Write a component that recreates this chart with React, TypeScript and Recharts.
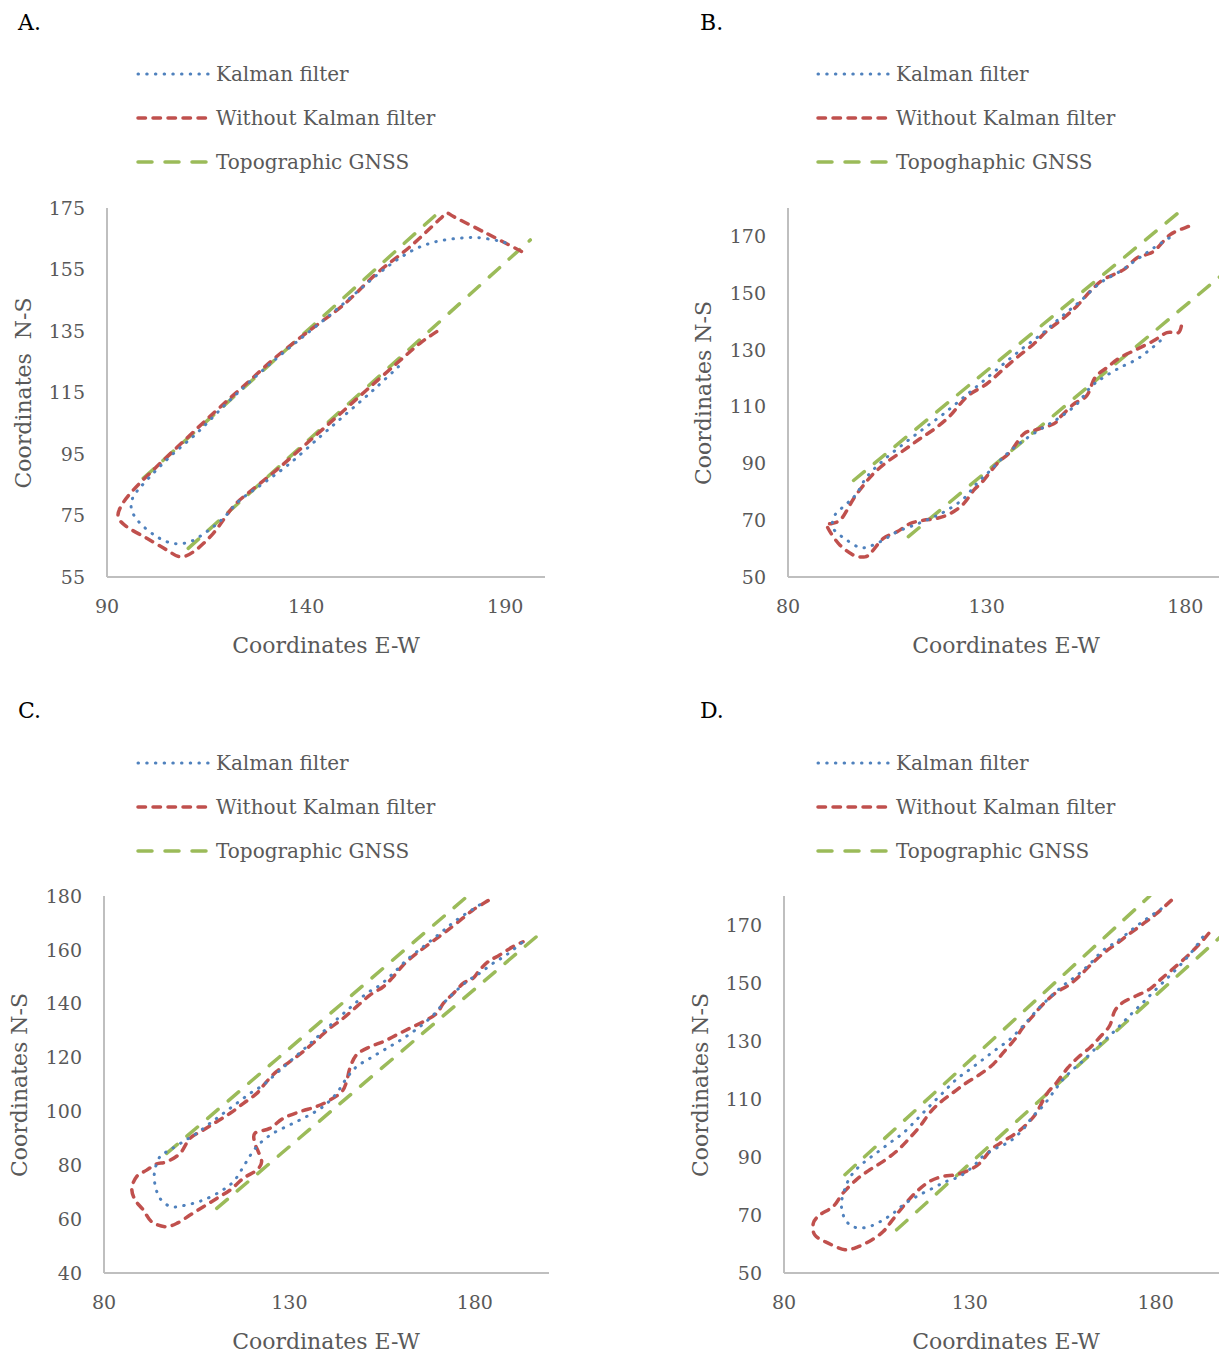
import React from "react";
import { LineChart, Line, XAxis, YAxis } from "recharts";

type Pt = [number, number];

// ---- Panel A ----
const kalmanA: Pt[] = [
  [163.2, 123.4], [156.9, 115.8], [150.2, 108.2], [143.5, 100.6], [136.0, 92.0], [129.3, 85.5],
  [123.4, 80.0], [119.2, 74.1], [115.0, 69.7], [110.9, 66.5], [106.7, 65.9], [102.5, 68.1],
  [98.3, 72.5], [96.2, 76.8], [96.6, 81.1], [100.0, 86.5], [105.8, 94.1], [112.5, 101.7],
  [119.2, 110.4], [125.9, 118.5], [132.6, 126.1], [139.3, 133.2], [146.0, 140.2], [151.9, 146.7],
  [157.8, 153.2], [162.8, 158.1], [167.8, 161.9], [172.8, 164.1], [177.9, 165.1], [182.9, 165.4],
  [188.0, 164.4], [191.0, 163.3],
];
const rawA: Pt[] = [
  [172.8, 134.8], [168.6, 131.0], [162.8, 124.5], [155.2, 115.8], [147.7, 107.1], [140.2, 98.5],
  [132.6, 89.8], [125.9, 82.8], [121.7, 77.9], [116.7, 69.2], [111.7, 63.2], [108.3, 61.6],
  [105.0, 63.8], [100.0, 67.6], [94.9, 71.4], [92.8, 74.6], [93.7, 78.4], [96.6, 83.3],
  [102.5, 90.9], [110.0, 100.1], [117.6, 109.3], [125.1, 118.0], [132.6, 126.7], [141.0, 135.3],
  [149.4, 143.5], [157.8, 153.8], [166.1, 162.4], [173.6, 171.4], [175.3, 173.3], [177.2, 172.1],
  [184.8, 167.1], [192.3, 162.1], [194.2, 160.8],
];
const gnssUpperA: Pt[] = [[99.1, 87.1], [174.5, 175.0]];
const gnssLowerA: Pt[] = [[110.4, 64.3], [196.3, 164.6]];

// ---- Panel B ----
const kalmanB: Pt[] = [
  [173.7, 133.2], [171.2, 130.2], [167.8, 126.7], [163.6, 123.8], [159.4, 120.3], [156.1, 116.8],
  [152.7, 110.9], [148.5, 106.3], [144.3, 102.7], [139.3, 98.1], [135.1, 93.4], [130.9, 87.5],
  [127.5, 82.9], [124.2, 77.6], [120.0, 73.5], [115.8, 70.6], [111.6, 68.2], [107.4, 65.9],
  [104.0, 63.0], [100.7, 60.9], [98.1, 60.4], [94.8, 63.0], [91.4, 67.1], [91.8, 71.8],
  [94.8, 75.8], [97.3, 79.4], [99.8, 85.2], [104.0, 91.1], [109.1, 96.9], [114.1, 102.2],
  [119.1, 107.4], [124.2, 113.3], [129.2, 119.1], [134.2, 125.0], [139.3, 130.8], [144.3, 136.1],
  [148.5, 141.3], [153.6, 147.2], [158.6, 153.6], [163.6, 157.7], [167.8, 161.8], [172.0, 165.9],
  [176.6, 170.0],
];
const rawB: Pt[] = [
  [180.8, 173.5], [176.2, 170.6], [172.0, 164.7], [167.8, 162.4], [164.5, 158.3], [159.4, 154.8],
  [156.1, 150.7], [152.7, 145.4], [149.4, 141.3], [145.2, 136.7], [141.8, 132.0], [137.6, 127.3],
  [134.2, 123.2], [130.0, 118.0], [125.8, 114.4], [123.3, 110.9], [120.8, 106.8], [117.4, 102.7],
  [113.2, 98.7], [109.1, 94.6], [104.9, 90.5], [101.5, 86.4], [99.0, 82.3], [96.5, 77.6],
  [93.5, 70.6], [91.0, 68.8], [89.7, 68.8], [90.6, 65.9], [93.1, 61.2], [96.5, 57.7],
  [99.4, 57.1], [101.1, 58.9], [104.0, 63.6], [107.4, 65.9], [110.7, 68.8], [114.1, 70.0],
  [117.4, 70.6], [120.8, 72.3], [124.2, 75.8], [126.7, 80.5], [129.2, 84.0], [132.6, 89.9],
  [135.9, 94.0], [139.3, 100.4], [141.8, 101.6], [146.8, 103.9], [148.5, 106.3], [151.9, 110.9],
  [155.2, 113.9], [157.3, 120.3], [160.3, 123.8], [163.6, 127.3], [167.8, 130.2], [172.0, 133.2],
  [175.4, 136.1], [178.3, 136.1], [179.2, 139.6],
];
const gnssUpperB: Pt[] = [[96.5, 84.0], [179.7, 180.0]];
const gnssLowerB: Pt[] = [[110.3, 64.2], [190.0, 157.3]];

// ---- Panel C ----
const kalmanC: Pt[] = [
  [181.3, 176.7], [175.1, 171.1], [170.6, 166.1], [166.1, 161.2], [161.6, 156.2], [158.0, 151.3],
  [154.4, 146.9], [150.8, 143.8], [147.2, 139.5], [143.6, 135.2], [139.1, 129.6], [134.6, 124.0],
  [130.1, 118.5], [126.5, 114.1], [122.9, 109.8], [119.4, 106.7], [115.8, 103.0], [112.2, 99.3],
  [108.6, 95.6], [105.0, 91.9], [101.4, 88.8], [97.8, 85.7], [95.1, 83.2], [93.7, 78.2],
  [93.7, 73.3], [95.1, 67.7], [98.2, 64.6], [102.3, 65.3], [106.8, 67.1], [111.3, 70.2],
  [114.9, 73.9], [117.6, 79.5], [119.8, 84.4], [122.0, 88.1], [125.6, 91.9], [130.1, 95.0],
  [134.6, 98.1], [139.1, 101.8], [142.7, 106.7], [145.4, 112.3], [148.1, 116.6], [151.7, 119.7],
  [156.2, 123.4], [160.7, 127.1], [165.2, 131.5], [168.8, 135.8], [171.5, 140.1], [174.2, 143.8],
  [177.8, 148.2], [181.3, 151.3], [184.9, 155.0], [188.5, 158.1], [193.0, 163.0],
];
const rawC: Pt[] = [
  [183.6, 178.3], [179.5, 174.8], [175.1, 169.9], [171.5, 166.1], [167.9, 162.4], [164.3, 158.7],
  [160.7, 154.4], [158.0, 150.0], [155.3, 146.3], [151.7, 143.2], [148.1, 138.9], [144.5, 134.6],
  [140.9, 130.9], [137.3, 126.5], [133.7, 122.2], [130.1, 118.5], [126.5, 114.8], [123.8, 111.0],
  [121.2, 106.7], [117.6, 103.0], [114.0, 99.3], [110.4, 96.2], [106.8, 93.1], [103.2, 90.0],
  [100.5, 84.4], [96.9, 81.3], [94.2, 80.5], [91.5, 78.2], [88.8, 75.8], [87.5, 71.4],
  [88.4, 67.1], [90.6, 63.4], [92.8, 59.1], [96.4, 57.2], [99.6, 58.4], [103.2, 61.5],
  [106.8, 64.6], [110.4, 67.7], [114.0, 70.8], [117.6, 75.2], [121.2, 78.2], [122.5, 81.3],
  [121.6, 85.1], [120.7, 88.1], [120.7, 91.9], [124.7, 93.7], [128.3, 97.4], [132.8, 99.9],
  [137.3, 101.8], [140.9, 104.2], [144.1, 107.3], [145.4, 111.0], [146.3, 116.0], [148.1, 121.0],
  [151.7, 124.0], [155.3, 125.9], [158.9, 128.4], [162.5, 130.9], [166.1, 133.3], [169.7, 136.4],
  [171.5, 140.1], [174.2, 143.8], [176.9, 147.6], [179.5, 149.4], [181.3, 152.5], [183.6, 155.6],
  [186.7, 158.1], [190.3, 161.2], [193.0, 163.0],
];
const gnssUpperC: Pt[] = [[96.9, 84.4], [177.8, 179.7]];
const gnssLowerC: Pt[] = [[110.4, 64.0], [196.6, 164.9]];

// ---- Panel D ----
const kalmanD: Pt[] = [
  [181.5, 175.6], [177.5, 172.1], [173.9, 168.7], [169.9, 164.6], [165.8, 161.2], [162.3, 156.6],
  [158.7, 152.5], [155.1, 149.1], [151.5, 145.0], [147.9, 140.4], [144.3, 135.2], [140.8, 130.6],
  [137.2, 127.2], [133.6, 123.7], [130.0, 120.2], [126.4, 116.8], [122.8, 112.2], [119.2, 107.6],
  [115.7, 102.9], [112.1, 98.3], [108.5, 94.9], [104.9, 91.4], [101.3, 87.9], [98.6, 84.5],
  [96.8, 80.5], [95.5, 74.7], [95.9, 70.1], [97.7, 66.6], [100.4, 65.5], [103.6, 66.3],
  [106.7, 68.3], [109.4, 70.6], [112.1, 73.5], [115.7, 76.4], [120.1, 79.3], [123.7, 81.6],
  [127.3, 83.3], [130.9, 86.8], [133.6, 90.3], [137.2, 93.1], [140.8, 95.4], [144.3, 99.5],
  [147.0, 104.1], [149.7, 107.6], [152.4, 112.2], [155.1, 116.8], [157.8, 120.2], [160.9, 123.7],
  [164.5, 128.3], [168.1, 132.4], [171.2, 136.4], [173.9, 139.9], [176.6, 143.3], [179.3, 146.8],
  [182.9, 151.4], [186.5, 156.0], [190.0, 161.2], [193.6, 167.5],
];
const rawD: Pt[] = [
  [184.2, 178.5], [180.2, 173.9], [176.6, 170.4], [173.0, 167.0], [169.4, 163.5], [165.8, 160.1],
  [162.3, 156.0], [159.6, 152.5], [156.4, 149.1], [153.3, 146.8], [149.7, 142.7], [147.0, 138.7],
  [144.3, 134.7], [142.1, 130.6], [139.0, 126.0], [136.3, 122.0], [132.7, 118.5], [129.1, 115.6],
  [125.5, 112.2], [121.9, 108.7], [119.2, 105.2], [116.6, 100.6], [113.4, 96.0], [110.3, 92.0],
  [106.7, 88.5], [103.1, 85.6], [99.5, 82.2], [95.9, 77.6], [93.3, 73.0], [89.7, 70.1],
  [87.9, 67.2], [88.3, 63.1], [91.9, 60.3], [96.4, 58.0], [100.0, 59.1], [103.6, 61.4],
  [106.7, 64.3], [108.9, 67.8], [112.1, 73.0], [115.7, 78.1], [119.2, 81.6], [122.8, 83.3],
  [126.4, 83.9], [130.0, 85.6], [132.7, 87.9], [135.8, 92.6], [139.0, 95.4], [142.5, 98.3],
  [145.2, 101.2], [147.9, 105.2], [150.6, 111.6], [153.3, 115.6], [156.4, 120.8], [159.1, 124.3],
  [162.3, 127.7], [164.9, 131.2], [167.6, 135.2], [169.0, 140.4], [171.2, 143.3], [174.8, 145.6],
  [178.4, 147.9], [181.5, 151.4], [185.1, 155.4], [188.7, 159.5], [191.8, 163.5], [194.5, 167.5],
  [195.0, 169.3],
];
const gnssUpperD: Pt[] = [[96.4, 83.9], [178.4, 180.0]];
const gnssLowerD: Pt[] = [[110.3, 64.9], [200.0, 168.9]];

// ---- ticks & labels ----
const xTicksA = [90, 140, 190];
const xTicksBCD = [80, 130, 180];
const yTicksA = [55, 75, 95, 115, 135, 155, 175];
const yTicksBD = [50, 70, 90, 110, 130, 150, 170];
const yTicksC = [40, 60, 80, 100, 120, 140, 160, 180];
const legendLabels = ["Kalman filter", "Without Kalman filter", "Topographic GNSS"];
const legendLabelsB = ["Kalman filter", "Without Kalman filter", "Topoghaphic GNSS"];

const FONT = "'DejaVu Serif', serif";
const GREY = "#595959";

const blueStyle = { stroke: "#4f81bd", strokeWidth: 3, strokeDasharray: "0.5 8.2", strokeLinecap: "round" as const };
const redStyle = { stroke: "#c0504d", strokeWidth: 3.5, strokeDasharray: "7.5 7.5", strokeLinecap: "round" as const };
const greenStyle = { stroke: "#9bbb59", strokeWidth: 3.5, strokeDasharray: "14 13", strokeLinecap: "round" as const };

// Excel-like smoothing (Catmull-Rom through every point)
const excelSmooth = (context: any) => {
  let xs: number[] = [];
  let ys: number[] = [];
  return {
    areaStart() {},
    areaEnd() {},
    lineStart() {
      xs = [];
      ys = [];
    },
    point(x: number, y: number) {
      xs.push(+x);
      ys.push(+y);
    },
    lineEnd() {
      const n = xs.length;
      if (!n) return;
      context.moveTo(xs[0], ys[0]);
      for (let i = 0; i < n - 1; i++) {
        const p = Math.max(i - 1, 0);
        const q = Math.min(i + 2, n - 1);
        context.bezierCurveTo(
          xs[i] + (xs[i + 1] - xs[p]) / 6,
          ys[i] + (ys[i + 1] - ys[p]) / 6,
          xs[i + 1] - (xs[q] - xs[i]) / 6,
          ys[i + 1] - (ys[q] - ys[i]) / 6,
          xs[i + 1],
          ys[i + 1]
        );
      }
    },
  };
};

const toData = (pts: Pt[]) => pts.map(([x, y]) => ({ x, y }));

interface PanelCfg {
  letter: string;
  letterX: number;
  letterY: number;
  legendX: number;
  legendY: number;
  labels: string[];
  yTitle: string;
  yTitleX: number;
  xTitleX: number;
  left: number;
  top: number;
  w: number;
  h: number;
  xDomain: [number, number];
  yDomain: [number, number];
  xTicks: number[];
  yTicks: number[];
  kalman: Pt[];
  raw: Pt[];
  gnssUpper: Pt[];
  gnssLower: Pt[];
}

const panels: PanelCfg[] = [
  {
    letter: "A.", letterX: 18, letterY: 10, legendX: 136, legendY: 74, labels: legendLabels,
    yTitle: "Coordinates  N-S", yTitleX: 23, xTitleX: 326,
    left: 107, top: 208, w: 438, h: 369, xDomain: [90, 200], yDomain: [55, 175],
    xTicks: xTicksA, yTicks: yTicksA,
    kalman: kalmanA, raw: rawA, gnssUpper: gnssUpperA, gnssLower: gnssLowerA,
  },
  {
    letter: "B.", letterX: 700, letterY: 10, legendX: 816, legendY: 74, labels: legendLabelsB,
    yTitle: "Coordinates N-S", yTitleX: 703, xTitleX: 1006,
    left: 788, top: 208, w: 437, h: 369, xDomain: [80, 190], yDomain: [50, 180],
    xTicks: xTicksBCD, yTicks: yTicksBD,
    kalman: kalmanB, raw: rawB, gnssUpper: gnssUpperB, gnssLower: gnssLowerB,
  },
  {
    letter: "C.", letterX: 18, letterY: 698, legendX: 136, legendY: 763, labels: legendLabels,
    yTitle: "Coordinates N-S", yTitleX: 19, xTitleX: 326,
    left: 104, top: 896, w: 445, h: 377, xDomain: [80, 200], yDomain: [40, 180],
    xTicks: xTicksBCD, yTicks: yTicksC,
    kalman: kalmanC, raw: rawC, gnssUpper: gnssUpperC, gnssLower: gnssLowerC,
  },
  {
    letter: "D.", letterX: 700, letterY: 698, legendX: 816, legendY: 763, labels: legendLabels,
    yTitle: "Coordinates N-S", yTitleX: 700, xTitleX: 1006,
    left: 784, top: 896, w: 446, h: 377, xDomain: [80, 200], yDomain: [50, 180],
    xTicks: xTicksBCD, yTicks: yTicksBD,
    kalman: kalmanD, raw: rawD, gnssUpper: gnssUpperD, gnssLower: gnssLowerD,
  },
];

const seriesStyles = [blueStyle, redStyle, greenStyle];

function LegendBlock({ x, y, labels }: { x: number; y: number; labels: string[] }) {
  return (
    <>
      {labels.map((label, i) => {
        const s = seriesStyles[i];
        return (
          <div
            key={label}
            style={{
              position: "absolute",
              left: x,
              top: y + i * 44 - 14,
              height: 28,
              display: "flex",
              alignItems: "center",
              whiteSpace: "nowrap",
            }}
          >
            <svg width={76} height={10}>
              <line x1={2} x2={74} y1={5} y2={5} {...s} />
            </svg>
            <span style={{ marginLeft: 4, fontSize: 20, color: GREY, fontFamily: FONT }}>{label}</span>
          </div>
        );
      })}
    </>
  );
}

function Panel({ p }: { p: PanelCfg }) {
  const axisLine = { stroke: "#bfbfbf", strokeWidth: 2 };
  const tick = { fill: GREY, fontSize: 19, fontFamily: FONT };
  return (
    <>
      <div style={{ position: "absolute", left: p.letterX, top: p.letterY, fontSize: 22, color: "#000", fontFamily: FONT }}>
        {p.letter}
      </div>
      <LegendBlock x={p.legendX} y={p.legendY} labels={p.labels} />
      <div style={{ position: "absolute", left: p.left - 100, top: p.top - 20 }}>
        <LineChart width={p.w + 120} height={p.h + 80} margin={{ top: 20, right: 20, left: 0, bottom: 0 }}>
          <XAxis
            type="number"
            dataKey="x"
            domain={p.xDomain}
            ticks={p.xTicks}
            interval={0}
            allowDataOverflow
            height={60}
            tickLine={false}
            tickSize={0}
            tickMargin={23}
            axisLine={axisLine}
            tick={tick}
          />
          <YAxis
            type="number"
            domain={p.yDomain}
            ticks={p.yTicks}
            interval={0}
            allowDataOverflow
            width={100}
            tickLine={false}
            tickSize={0}
            tickMargin={22}
            axisLine={axisLine}
            tick={tick}
          />
          <Line data={toData(p.gnssUpper)} dataKey="y" type={excelSmooth as any} dot={false} activeDot={false} isAnimationActive={false} {...greenStyle} />
          <Line data={toData(p.gnssLower)} dataKey="y" type={excelSmooth as any} dot={false} activeDot={false} isAnimationActive={false} {...greenStyle} />
          <Line data={toData(p.raw)} dataKey="y" type={excelSmooth as any} dot={false} activeDot={false} isAnimationActive={false} {...redStyle} />
          <Line data={toData(p.kalman)} dataKey="y" type={excelSmooth as any} dot={false} activeDot={false} isAnimationActive={false} {...blueStyle} />
        </LineChart>
      </div>
      <div
        style={{
          position: "absolute",
          left: p.yTitleX,
          top: p.top + p.h / 2,
          transform: "translate(-50%, -50%) rotate(-90deg)",
          fontSize: 22,
          color: GREY,
          fontFamily: FONT,
          whiteSpace: "pre",
        }}
      >
        {p.yTitle}
      </div>
      <div
        style={{
          position: "absolute",
          left: p.xTitleX,
          top: p.top + p.h + 68,
          transform: "translate(-50%, -50%)",
          fontSize: 22,
          color: GREY,
          fontFamily: FONT,
          whiteSpace: "nowrap",
        }}
      >
        Coordinates E-W
      </div>
    </>
  );
}

export default function App() {
  return (
    <div
      style={{
        position: "absolute",
        left: 0,
        top: 0,
        width: 1219,
        height: 1352,
        overflow: "hidden",
        background: "#fff",
        fontFamily: FONT,
      }}
    >
      {panels.map((p) => (
        <Panel key={p.letter} p={p} />
      ))}
    </div>
  );
}
